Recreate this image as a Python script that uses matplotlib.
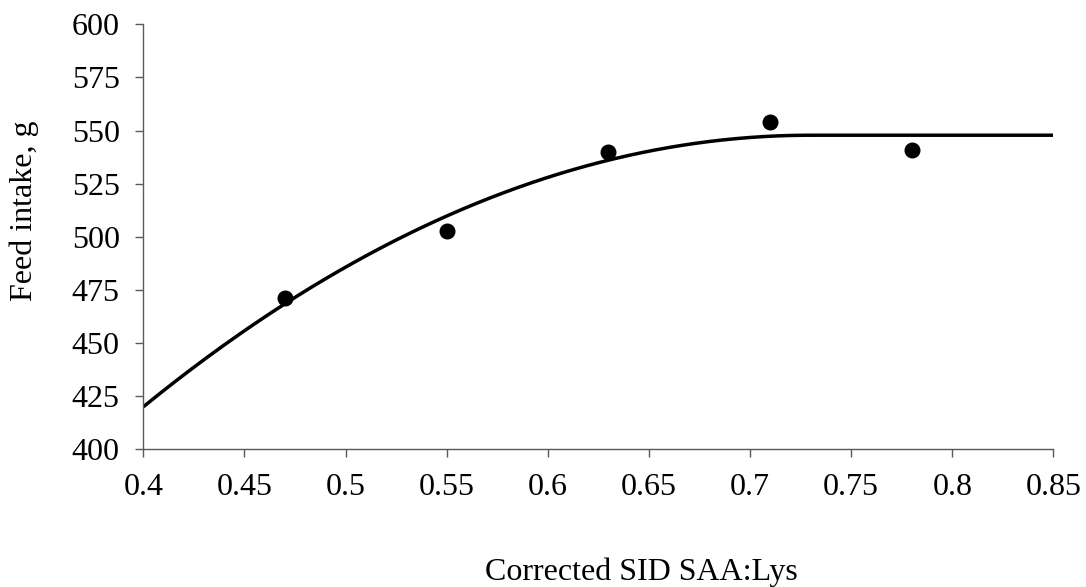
import numpy as np
import matplotlib
matplotlib.use("Agg")
import matplotlib.pyplot as plt

# Observed data
x_obs = [0.47, 0.55, 0.63, 0.71, 0.78]
y_obs = [471.3, 502.9, 540.0, 554.2, 541.0]

# Quadratic-plateau model parameters
plateau = 547.8
breakpoint = 0.73
curve_at_start = 420.0
x_start, x_end = 0.4, 0.85

x_ticks = [0.4, 0.45, 0.5, 0.55, 0.6, 0.65, 0.7, 0.75, 0.8, 0.85]
x_tick_labels = ["0.4", "0.45", "0.5", "0.55", "0.6", "0.65", "0.7", "0.75", "0.8", "0.85"]
y_ticks = [400, 425, 450, 475, 500, 525, 550, 575, 600]

plt.rcParams['font.family'] = ['Liberation Serif', 'DejaVu Serif']

fig = plt.figure(figsize=(10.86, 5.87), dpi=100)
ax = fig.add_axes([0.132, 0.2346, 0.838, 0.724])

a = (plateau - curve_at_start) / (breakpoint - x_start) ** 2
xc = np.linspace(x_start, x_end, 400)
yc = np.where(xc < breakpoint, plateau - a * (breakpoint - xc) ** 2, plateau)
ax.plot(xc, yc, color='black', lw=2.5, solid_capstyle='butt', zorder=2)
ax.plot(x_obs, y_obs, 'o', color='black', ms=10.5, zorder=3, clip_on=False)

ax.set_xlim(0.4, 0.85)
ax.set_ylim(400, 600)
ax.set_xticks(x_ticks)
ax.set_xticklabels(x_tick_labels)
ax.set_yticks(y_ticks)

for s in ['top', 'right']:
    ax.spines[s].set_visible(False)
for s in ['left', 'bottom']:
    ax.spines[s].set_color('#595959')
    ax.spines[s].set_linewidth(1.0)
ax.tick_params(axis='both', direction='out', length=6, width=1.0, color='#595959',
               labelsize=23, labelcolor='black')
ax.tick_params(axis='x', pad=11)
ax.tick_params(axis='y', pad=11)

ax.set_xlabel("Corrected SID SAA:Lys", fontsize=23)
ax.xaxis.set_label_coords(0.5477, -0.29)
ax.xaxis.label.set_verticalalignment('center')
ax.set_ylabel("Feed intake, g", fontsize=23)
ax.yaxis.set_label_coords(-0.131, 0.562)
ax.yaxis.label.set_verticalalignment('center')

fig.savefig("out.png", dpi=100)
